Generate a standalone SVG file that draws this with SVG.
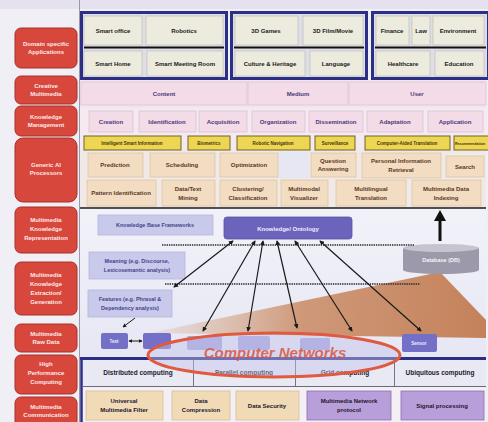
<svg xmlns="http://www.w3.org/2000/svg" width="488" height="422" viewBox="0 0 488 422">
  <defs>
    <style>
      .lbl { font-family: "Liberation Sans Narrow", "Liberation Sans", Arial, sans-serif; font-weight: bold; text-anchor: middle; }
      .side rect { fill: #d8473b; stroke: #a8302a; stroke-width: 1; }
      .side text { fill: #fbeaea; font-size: 6px; }
      .app { fill: #ecebdd; stroke: #c4c3b8; stroke-width: 0.8; }
      .app-t { fill: #1a1a1a; font-size: 6px; }
      .frame { fill: #dedde8; stroke: #2c2f86; stroke-width: 3; }
      .km { fill: #f3dbe8; stroke: #dcc4d4; stroke-width: 0.8; }
      .km-t { fill: #4b3a78; font-size: 6px; }
      .yel { fill: #efd652; stroke: #6e6228; stroke-width: 1; }
      .yel-t { fill: #3d3510; font-size: 4.5px; }
      .ai { fill: #f2dcc2; stroke: #dcc5a8; stroke-width: 0.8; }
      .ai-t { fill: #5a3826; font-size: 6px; }
      .kr { fill: #c9c9ec; stroke: #b6b6de; stroke-width: 0.8; }
      .kr-t { fill: #44448a; font-size: 5.5px; }
      .hpc-t { fill: #1a1a2a; font-size: 6.5px; }
      .tan { fill: #f0dbb6; stroke: #d4c09c; stroke-width: 0.8; }
      .pur { fill: #b99fd9; stroke: #8a6fb4; stroke-width: 0.8; }
      .dark-t { fill: #1d1530; font-size: 6px; }
      .link { stroke: #1a1a1a; stroke-width: 1.2; fill: none; marker-start: url(#tipS); marker-end: url(#tip); }
      .dots { stroke: #2a2a2a; stroke-width: 1.6; stroke-dasharray: 1.4 0.9; }
    </style>
    <marker id="tip" viewBox="0 0 6 6" refX="5" refY="3" markerWidth="4" markerHeight="4" orient="auto">
      <path d="M0,0 L6,3 L0,6 z" fill="#1a1a1a"/>
    </marker>
    <marker id="tipS" viewBox="0 0 6 6" refX="1" refY="3" markerWidth="4" markerHeight="4" orient="auto">
      <path d="M6,0 L0,3 L6,6 z" fill="#1a1a1a"/>
    </marker>
    <linearGradient id="wedge" x1="150" y1="0" x2="486" y2="0" gradientUnits="userSpaceOnUse">
      <stop offset="0" stop-color="#d8a27c" stop-opacity="0.15"/>
      <stop offset="0.45" stop-color="#c8845a" stop-opacity="0.8"/>
      <stop offset="1" stop-color="#c27c52" stop-opacity="0.95"/>
    </linearGradient>
    <linearGradient id="lowbg" x1="0" y1="0" x2="0" y2="1">
      <stop offset="0" stop-color="#f1f2f9"/>
      <stop offset="1" stop-color="#e6e7f3"/>
    </linearGradient>
  </defs>

  <!-- page background -->
  <rect x="0" y="0" width="488" height="422" fill="#f1eff6"/>
  <rect x="0" y="0" width="488" height="9" fill="#e6e1ee"/>
  <line x1="79.5" y1="0" x2="79.5" y2="422" stroke="#9a98aa" stroke-width="1"/>

  <!-- layer backgrounds -->
  <rect x="80" y="80" width="406" height="28" fill="#f2e6ee"/>
  <rect x="80" y="108" width="406" height="42" fill="#f4eaf0"/>
  <rect x="80" y="150" width="406" height="58" fill="#f1e9e6"/>
  <rect x="279" y="152" width="30" height="26" fill="#e7e6f3"/>
  <rect x="80" y="209" width="406" height="150" fill="url(#lowbg)"/>
  <rect x="80" y="386" width="406" height="36" fill="#f3eff4"/>

  <!-- side layer labels -->
  <g class="side lbl">
    <g id="side-domain"><rect x="15" y="28" width="62" height="40" rx="6"/><text x="46" y="46">Domain specific</text><text x="46" y="54">Applications</text></g>
    <g id="side-creative"><rect x="15" y="76" width="62" height="28" rx="6"/><text x="46" y="88">Creative</text><text x="46" y="96">Multimedia</text></g>
    <g id="side-km"><rect x="15" y="106" width="62" height="30" rx="6"/><text x="46" y="119">Knowledge</text><text x="46" y="127">Management</text></g>
    <g id="side-ai"><rect x="15" y="138" width="62" height="64" rx="8"/><text x="46" y="167">Generic AI</text><text x="46" y="175">Processors</text></g>
    <g id="side-rep"><rect x="15" y="207" width="62" height="46" rx="6"/><text x="46" y="222">Multimedia</text><text x="46" y="231">Knowledge</text><text x="46" y="240">Representation</text></g>
    <g id="side-ext"><rect x="15" y="262" width="62" height="53" rx="6"/><text x="46" y="277">Multimedia</text><text x="46" y="286">Knowledge</text><text x="46" y="295">Extraction/</text><text x="46" y="304">Generation</text></g>
    <g id="side-raw"><rect x="15" y="324" width="62" height="28" rx="6"/><text x="46" y="336">Multimedia</text><text x="46" y="344">Raw Data</text></g>
    <g id="side-hpc"><rect x="15" y="355" width="62" height="39" rx="6"/><text x="46" y="366">High</text><text x="46" y="375">Performance</text><text x="46" y="384">Computing</text></g>
    <g id="side-comm"><rect x="15" y="397" width="62" height="30" rx="6"/><text x="46" y="409">Multimedia</text><text x="46" y="417">Communication</text></g>
  </g>

  <!-- application frames -->
  <g id="apps-frame1">
    <rect class="frame" x="81.5" y="12.5" width="145" height="66"/>
    <line x1="84" y1="47.5" x2="224" y2="47.5" stroke="#111" stroke-width="2"/>
  </g>
  <g id="apps-frame2">
    <rect class="frame" x="231.5" y="12.5" width="135" height="66"/>
    <line x1="234" y1="47.5" x2="364" y2="47.5" stroke="#111" stroke-width="2"/>
  </g>
  <g id="apps-frame3">
    <rect class="frame" x="372.5" y="12.5" width="116" height="66"/>
    <line x1="375" y1="47.5" x2="486" y2="47.5" stroke="#111" stroke-width="2"/>
  </g>
  <g class="lbl">
    <g id="app-smart-office"><rect class="app" x="84" y="16" width="58" height="29"/><text class="app-t" x="113" y="33">Smart office</text></g>
    <g id="app-robotics"><rect class="app" x="146" y="16" width="77" height="29"/><text class="app-t" x="184" y="33">Robotics</text></g>
    <g id="app-3d-games"><rect class="app" x="235" y="16" width="63" height="29"/><text class="app-t" x="266" y="33">3D Games</text></g>
    <g id="app-3d-film"><rect class="app" x="303" y="16" width="60" height="29"/><text class="app-t" x="333" y="33">3D Film/Movie</text></g>
    <g id="app-finance"><rect class="app" x="376" y="16" width="33" height="29"/><text class="app-t" x="392" y="33">Finance</text></g>
    <g id="app-law"><rect class="app" x="412" y="16" width="18" height="29"/><text class="app-t" x="421" y="33">Law</text></g>
    <g id="app-environment"><rect class="app" x="433" y="16" width="51" height="29"/><text class="app-t" x="458" y="33">Environment</text></g>
    <g id="app-smart-home"><rect class="app" x="84" y="51" width="58" height="25"/><text class="app-t" x="113" y="66">Smart Home</text></g>
    <g id="app-meeting"><rect class="app" x="147" y="51" width="76" height="25"/><text class="app-t" x="185" y="66">Smart Meeting Room</text></g>
    <g id="app-culture"><rect class="app" x="235" y="51" width="70" height="25"/><text class="app-t" x="270" y="66">Culture &amp; Heritage</text></g>
    <g id="app-language"><rect class="app" x="310" y="51" width="53" height="25"/><text class="app-t" x="336" y="66">Language</text></g>
    <g id="app-healthcare"><rect class="app" x="376" y="51" width="54" height="25"/><text class="app-t" x="403" y="66">Healthcare</text></g>
    <g id="app-education"><rect class="app" x="435" y="51" width="49" height="25"/><text class="app-t" x="459" y="66">Education</text></g>
  </g>

  <!-- creative multimedia row -->
  <g class="lbl">
    <g id="cm-content"><rect class="km" x="81" y="82" width="166" height="23"/><text class="km-t" x="164" y="96">Content</text></g>
    <g id="cm-medium"><rect class="km" x="248" y="82" width="100" height="23"/><text class="km-t" x="298" y="96">Medium</text></g>
    <g id="cm-user"><rect class="km" x="349" y="82" width="137" height="23"/><text class="km-t" x="417" y="96">User</text></g>
  </g>

  <!-- knowledge management row -->
  <g class="lbl">
    <g id="km-creation"><rect class="km" x="89" y="111" width="44" height="21"/><text class="km-t" x="111" y="124">Creation</text></g>
    <g id="km-identification"><rect class="km" x="139" y="111" width="57" height="21"/><text class="km-t" x="167" y="124">Identification</text></g>
    <g id="km-acquisition"><rect class="km" x="199" y="111" width="48" height="21"/><text class="km-t" x="223" y="124">Acquisition</text></g>
    <g id="km-organization"><rect class="km" x="252" y="111" width="53" height="21"/><text class="km-t" x="278" y="124">Organization</text></g>
    <g id="km-dissemination"><rect class="km" x="309" y="111" width="54" height="21"/><text class="km-t" x="336" y="124">Dissemination</text></g>
    <g id="km-adaptation"><rect class="km" x="367" y="111" width="56" height="21"/><text class="km-t" x="395" y="124">Adaptation</text></g>
    <g id="km-application"><rect class="km" x="428" y="111" width="55" height="21"/><text class="km-t" x="455" y="124">Application</text></g>
  </g>

  <!-- highlighted services -->
  <g class="lbl">
    <g id="svc-smart-info"><rect class="yel" x="84" y="136" width="97" height="14"/><text class="yel-t" x="132" y="145">Intelligent Smart Information</text></g>
    <g id="svc-biometrics"><rect class="yel" x="188" y="136" width="42" height="14"/><text class="yel-t" x="209" y="145">Biometrics</text></g>
    <g id="svc-navigation"><rect class="yel" x="237" y="136" width="73" height="14"/><text class="yel-t" x="273" y="145">Robotic Navigation</text></g>
    <g id="svc-surveillance"><rect class="yel" x="315" y="136" width="40" height="14"/><text class="yel-t" x="335" y="145">Surveillance</text></g>
    <g id="svc-translation"><rect class="yel" x="365" y="136" width="85" height="14"/><text class="yel-t" x="407" y="145">Computer-Aided Translation</text></g>
    <g id="svc-recommendation"><rect class="yel" x="454" y="136" width="38" height="14"/><text class="yel-t" x="470" y="145" style="font-size:3.6px">Recommendation</text></g>
  </g>

  <!-- generic AI processors -->
  <g class="lbl">
    <g id="ai-prediction"><rect class="ai" x="88" y="153" width="55" height="24"/><text class="ai-t" x="115" y="167">Prediction</text></g>
    <g id="ai-scheduling"><rect class="ai" x="150" y="153" width="65" height="24"/><text class="ai-t" x="182" y="167">Scheduling</text></g>
    <g id="ai-optimization"><rect class="ai" x="220" y="153" width="58" height="24"/><text class="ai-t" x="249" y="167">Optimization</text></g>
    <g id="ai-qa"><rect class="ai" x="311" y="153" width="45" height="24"/><text class="ai-t" x="333" y="163">Question</text><text class="ai-t" x="333" y="171">Answering</text></g>
    <g id="ai-pir"><rect class="ai" x="362" y="153" width="79" height="25"/><text class="ai-t" x="401" y="163">Personal Information</text><text class="ai-t" x="401" y="172">Retrieval</text></g>
    <g id="ai-search"><rect class="ai" x="446" y="156" width="38" height="21"/><text class="ai-t" x="465" y="169">Search</text></g>
    <g id="ai-pattern"><rect class="ai" x="87" y="180" width="69" height="26"/><text class="ai-t" x="121" y="195">Pattern Identification</text></g>
    <g id="ai-mining"><rect class="ai" x="162" y="180" width="53" height="26"/><text class="ai-t" x="188" y="191">Data/Text</text><text class="ai-t" x="188" y="200">Mining</text></g>
    <g id="ai-clustering"><rect class="ai" x="220" y="180" width="57" height="26"/><text class="ai-t" x="248" y="191">Clustering/</text><text class="ai-t" x="248" y="200">Classification</text></g>
    <g id="ai-visualizer"><rect class="ai" x="281" y="180" width="47" height="26"/><text class="ai-t" x="304" y="191">Multimodal</text><text class="ai-t" x="304" y="200">Visualizer</text></g>
    <g id="ai-translation"><rect class="ai" x="336" y="180" width="70" height="26"/><text class="ai-t" x="371" y="191">Multilingual</text><text class="ai-t" x="371" y="200">Translation</text></g>
    <g id="ai-indexing"><rect class="ai" x="412" y="180" width="69" height="26"/><text class="ai-t" x="446" y="191">Multimedia Data</text><text class="ai-t" x="446" y="200">Indexing</text></g>
  </g>
  <line x1="80" y1="208" x2="486" y2="208" stroke="#1a1a1a" stroke-width="1.5"/>

  <!-- shaded extraction wedge -->
  <polygon points="150,333 440,272 486,320 486,338" fill="url(#wedge)"/>

  <!-- knowledge representation -->
  <g id="kb-frameworks" class="lbl"><rect class="kr" x="98" y="215" width="115" height="20"/><text class="kr-t" x="155" y="227">Knowledge Base Frameworks</text></g>
  <g id="kb-ontology" class="lbl">
    <rect x="224" y="217" width="128" height="22" rx="3" fill="#6c64bc" stroke="#58509e" stroke-width="0.8"/>
    <text x="288" y="231" fill="#eeeefa" style="font-size:6px">Knowledge/ Ontology</text>
  </g>
  <g id="kb-database" class="lbl">
    <path d="M403,248 v22 a38,4 0 0 0 76,0 v-22" fill="#9b99aa"/>
    <ellipse cx="441" cy="248" rx="38" ry="4" fill="#c6c4d0"/>
    <text x="441" y="262" fill="#f4f4f8" style="font-size:5.5px">Database (DB)</text>
  </g>
  <g id="ex-meaning" class="lbl"><rect class="kr" x="89" y="252" width="96" height="27"/><text class="kr-t" x="137" y="263">Meaning (e.g. Discourse,</text><text class="kr-t" x="137" y="272">Lexicosemantic analysis)</text></g>
  <g id="ex-features" class="lbl"><rect class="kr" x="88" y="290" width="84" height="27"/><text class="kr-t" x="130" y="301">Features (e.g. Phrasal &amp;</text><text class="kr-t" x="130" y="310">Dependency analysis)</text></g>

  <!-- high performance computing -->
  <g id="hpc-row">
    <rect x="82" y="359" width="404" height="27" fill="#e9e9f4"/>
    <line x1="80" y1="358.5" x2="486" y2="358.5" stroke="#2c2f86" stroke-width="3"/>
    <line x1="81.5" y1="358" x2="81.5" y2="422" stroke="#2c2f86" stroke-width="2.5"/>
    <line x1="82" y1="386.5" x2="486" y2="386.5" stroke="#6a6a7a" stroke-width="1"/>
    <line x1="193.5" y1="360" x2="193.5" y2="386" stroke="#55556a" stroke-width="0.8"/>
    <line x1="295.5" y1="360" x2="295.5" y2="386" stroke="#55556a" stroke-width="0.8"/>
    <line x1="394.5" y1="360" x2="394.5" y2="386" stroke="#55556a" stroke-width="0.8"/>
    <g class="lbl">
      <text class="hpc-t" x="138" y="375">Distributed computing</text>
      <text class="hpc-t" x="244" y="375">Parallel computing</text>
      <text class="hpc-t" x="345" y="375">Grid computing</text>
      <text class="hpc-t" x="440" y="375">Ubiquitous computing</text>
    </g>
  </g>

  <!-- raw data sources -->
  <g id="raw-text" class="lbl"><rect x="101" y="333" width="27" height="16" rx="2" fill="#7470c8"/><text x="114" y="343" fill="#eeeefa" style="font-size:4.5px">Text</text></g>
  <g id="raw-image"><rect x="143" y="333" width="28" height="16" rx="2" fill="#7470c8"/></g>
  <g id="raw-audio"><rect x="187" y="336" width="35" height="14" rx="2" fill="#a9a6dc"/></g>
  <g id="raw-video"><rect x="238" y="336" width="32" height="14" rx="2" fill="#a9a6dc"/></g>
  <g id="raw-stream"><rect x="300" y="338" width="30" height="12" rx="2" fill="#a9a6dc"/></g>
  <g id="raw-sensor" class="lbl"><rect x="402" y="334" width="35" height="18" rx="2" fill="#7470c8"/><text x="419" y="345" fill="#eeeefa" style="font-size:4.5px">Sensor</text></g>

  <!-- computer networks -->
  <g id="computer-networks">
    <ellipse cx="274" cy="355" rx="126" ry="22" fill="#c4c3ea" fill-opacity="0.45" stroke="#e05a40" stroke-width="3"/>
    <text x="275" y="358" class="lbl" fill="#d9553f" fill-opacity="0.85" style="font-size:15px;font-style:italic">Computer Networks</text>
  </g>

  <!-- communication -->
  <g class="lbl">
    <g id="comm-filter"><rect class="tan" x="86" y="391" width="77" height="29"/><text class="dark-t" x="124" y="403">Universal</text><text class="dark-t" x="124" y="412">Multimedia Filter</text></g>
    <g id="comm-compression"><rect class="tan" x="172" y="391" width="58" height="29"/><text class="dark-t" x="201" y="403">Data</text><text class="dark-t" x="201" y="412">Compression</text></g>
    <g id="comm-security"><rect class="tan" x="236" y="391" width="63" height="29"/><text class="dark-t" x="267" y="408">Data Security</text></g>
    <g id="comm-protocol"><rect class="pur" x="307" y="391" width="84" height="29"/><text class="dark-t" x="349" y="403">Multimedia Network</text><text class="dark-t" x="349" y="412">protocol</text></g>
    <g id="comm-signal"><rect class="pur" x="401" y="391" width="83" height="29"/><text class="dark-t" x="442" y="408">Signal processing</text></g>
  </g>

  <!-- connectors -->
  <g id="connectors">
    <line class="dots" x1="162" y1="245" x2="414" y2="245"/>
    <line class="dots" x1="165" y1="284" x2="420" y2="284"/>
    <line class="link" x1="233" y1="241" x2="174" y2="287"/>
    <line class="link" x1="255" y1="241" x2="203" y2="331"/>
    <line class="link" x1="263" y1="241" x2="248" y2="331"/>
    <line class="link" x1="277" y1="241" x2="297" y2="328"/>
    <line class="link" x1="295" y1="241" x2="352" y2="331"/>
    <line class="link" x1="320" y1="241" x2="421" y2="331"/>
    <line x1="135" y1="318" x2="123" y2="327" stroke="#1a1a1a" stroke-width="1" marker-end="url(#tip)"/>
    <line x1="129" y1="341" x2="142" y2="341" stroke="#1a1a1a" stroke-width="1" marker-start="url(#tipS)" marker-end="url(#tip)"/>
    <line x1="440" y1="241" x2="440" y2="220" stroke="#111" stroke-width="3"/>
    <polygon points="434,221 446,221 440,210" fill="#111"/>
  </g>
</svg>
